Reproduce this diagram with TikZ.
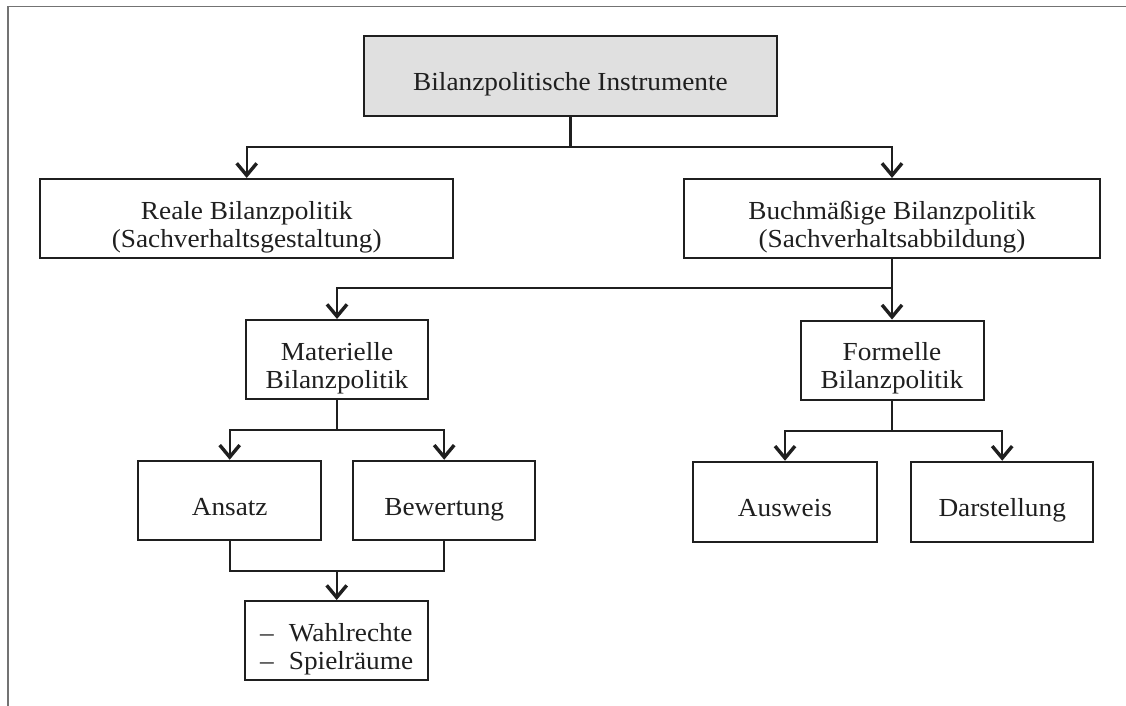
\documentclass[tikz,border=0pt]{standalone}
\usepackage{fontspec}
\setmainfont[FakeStretch=1.05]{Liberation Serif}
\usetikzlibrary{arrows.meta}
\newcommand{\onel}[1]{\raisebox{0pt}[29pt][0pt]{#1}}
\newcommand{\twol}[2][c]{\raisebox{0pt}[57pt][0pt]{\begin{tabular}[b]{@{}#1@{}}#2\end{tabular}}}
\begin{document}
\begin{tikzpicture}[x=1pt,y=-1pt,
  box/.style={draw=black!88, line width=2pt, rectangle, inner sep=0pt, align=center,
    font=\fontsize{26}{28}\selectfont, text=black!88},
  arr/.style={line width=2.2pt, draw=black!88, -{Straight Barb[length=12pt,width=20pt,line width=3.4pt]}},
  ln/.style={line width=2.2pt, draw=black!88}]
\useasboundingbox (0,0) rectangle (1126,706);
\draw[line width=1.6pt, draw=black!55] (1126,6.7) -- (8,6.7) -- (8,706);

\node[box, fill=black!12, minimum width=413pt, minimum height=80pt] (top) at (570.5,76) {\onel{Bilanzpolitische Instrumente}};
\node[box, minimum width=413pt, minimum height=79.5pt] (reale) at (246.7,218.7) {\twol{Reale Bilanzpolitik\\(Sachverhaltsgestaltung)}};
\node[box, minimum width=416pt, minimum height=79.5pt] (buch) at (892,218.7) {\twol{Buchmäßige Bilanzpolitik\\(Sachverhaltsabbildung)}};
\node[box, minimum width=182.6pt, minimum height=79pt] (mat) at (337,359.5) {\twol{Materielle\\Bilanzpolitik}};
\node[box, minimum width=183pt, minimum height=79.5pt] (form) at (892,360.3) {\twol{Formelle\\Bilanzpolitik}};
\node[box, minimum width=182.7pt, minimum height=79.5pt] (ansatz) at (229.7,500.5) {\onel{Ansatz}};
\node[box, minimum width=181.7pt, minimum height=79.5pt] (bew) at (444.2,500.5) {\onel{Bewertung}};
\node[box, minimum width=183.4pt, minimum height=80.5pt] (ausw) at (785,502) {\onel{Ausweis}};
\node[box, minimum width=182.3pt, minimum height=80.5pt] (darst) at (1002.2,502) {\onel{Darstellung}};
\node[box, minimum width=183.3pt, minimum height=79pt] (wahl) at (336.7,640.5) {\twol[l]{–\hspace{15pt}Wahlrechte\\–\hspace{15pt}Spielräume}};

\coordinate (j1) at (570.5,147);
\coordinate (j2) at (892,288);
\coordinate (j3) at (337,430);
\coordinate (j4) at (892,431);
\coordinate (j5) at (336.7,570.7);

\draw[ln] (top.south) -- (j1);
\draw[arr] (j1) -| (reale.north);
\draw[arr] (j1) -| (buch.north);

\draw[arr] (buch.south) -- (form.north);
\draw[arr] (j2) -| (mat.north);

\draw[ln] (mat.south) -- (j3);
\draw[arr] (j3) -| (ansatz.north);
\draw[arr] (j3) -| (bew.north);

\draw[ln] (form.south) -- (j4);
\draw[arr] (j4) -| (ausw.north);
\draw[arr] (j4) -| (darst.north);

\draw[ln] (ansatz.south) |- (j5) -| (bew.south);
\draw[arr] (j5) -- (wahl.north);
\end{tikzpicture}
\end{document}
